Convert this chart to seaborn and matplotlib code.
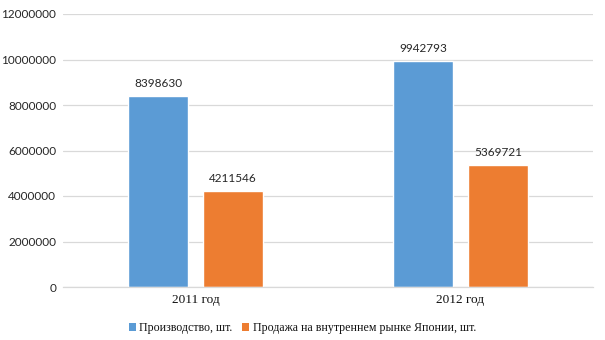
import matplotlib
matplotlib.use("Agg")
import matplotlib.pyplot as plt
import seaborn as sns
import pandas as pd
from matplotlib.patches import Patch

years = ["2011 год", "2012 год"]
series_names = ["Производство, шт.", "Продажа на внутреннем рынке Японии, шт."]
production = [8398630, 9942793]
domestic_sales = [4211546, 5369721]
y_ticks = [0, 2000000, 4000000, 6000000, 8000000, 10000000, 12000000]

colors = ["#5B9BD5", "#ED7D31"]

df = pd.DataFrame({
    "year": years * 2,
    "series": [series_names[0]] * 2 + [series_names[1]] * 2,
    "value": production + domestic_sales,
})

sns.set_theme(style="white")
fig = plt.figure(figsize=(6.05, 3.4), dpi=100)
ax = fig.add_axes([63 / 605, 1 - 287 / 340, 530 / 605, 273 / 340])

sns.barplot(data=df, x="year", y="value", hue="series", palette=colors,
            width=0.566, gap=0.212, ax=ax, legend=False, saturation=1)

ax.set_xlim(-0.5, 1.5)
ax.set_ylim(0, 12000000)
ax.set_yticks(y_ticks)
ax.set_yticklabels([str(v) for v in y_ticks], family="Lato", fontsize=8.5, color="#262626")
ax.set_xticks([0, 1])
ax.set_xticklabels(years, family="Liberation Serif", fontsize=9.5, color="#111111")
ax.tick_params(axis="both", length=0, pad=5)
ax.set_xlabel("")
ax.set_ylabel("")
ax.grid(axis="y", color="#D9D9D9", linewidth=0.9)
ax.set_axisbelow(True)
for side in ["left", "right", "top"]:
    ax.spines[side].set_visible(False)
ax.spines["bottom"].set_color("#D9D9D9")
ax.spines["bottom"].set_linewidth(0.9)

for container in ax.containers:
    ax.bar_label(container, labels=[f"{int(v)}" for v in container.datavalues],
                 padding=5, family="Lato", fontsize=8.5, color="#262626")

handles = [Patch(facecolor=c, edgecolor="none") for c in colors]
fig.legend(handles, series_names, loc="center", bbox_to_anchor=(0.5, 1 - 328 / 340),
           ncol=2, frameon=False, prop={"family": "Liberation Serif", "size": 8.6},
           handlelength=0.6, handleheight=0.6, handletextpad=0.3, columnspacing=0.8,
           labelcolor="#111111")

fig.savefig("out.png", dpi=100)
